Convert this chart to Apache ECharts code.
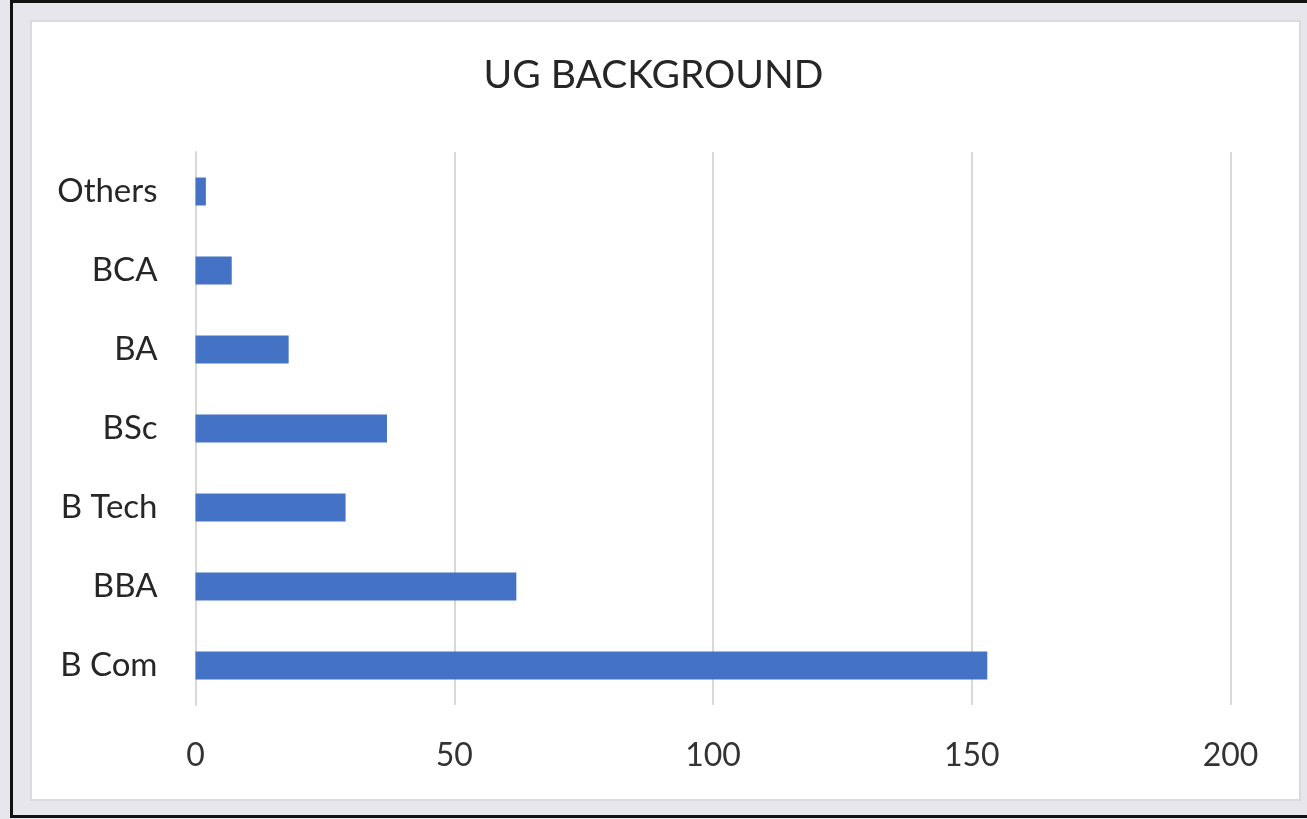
<!DOCTYPE html>
<html>
<head>
<meta charset="utf-8">
<script src="https://cdn.jsdelivr.net/npm/echarts@6/dist/echarts.min.js"></script>
<style>
  html, body { margin: 0; padding: 0; background: #e6e6ec; overflow: hidden; }
  .wrap { position: relative; width: 1307px; height: 819px; }
  .frame {
    position: absolute; left: 10px; top: 0; width: 1320px; height: 812px;
    border: 3px solid #111; background: #e6e6ec;
  }
  .panel {
    position: absolute; left: 30px; top: 20px; width: 1267px; height: 777px;
    border: 2px solid #d9d9de; background: #fff;
  }
  #chart { position: absolute; left: 0; top: 0; width: 1307px; height: 819px; }
</style>
</head>
<body>
<div class="wrap">
  <div class="frame"></div>
  <div class="panel"></div>
  <div id="chart"></div>
</div>
<script>
// Undergraduate degree background counts
const titleText = 'UG BACKGROUND';
const categories = ['B Com', 'BBA', 'B Tech', 'BSc', 'BA', 'BCA', 'Others'];
const counts = [153, 62, 29, 37, 18, 7, 2];
const axisMin = 0;
const axisMax = 200;
const axisStep = 50;

const FONT = 'Lato, "Open Sans", sans-serif';
const chart = echarts.init(document.getElementById('chart'), null, { renderer: 'canvas' });

chart.setOption({
  backgroundColor: 'transparent',
  animation: false,
  title: {
    text: titleText,
    left: 'center',
    top: 51,
    textStyle: { fontFamily: FONT, fontSize: 39, fontWeight: 'normal', color: '#262626' }
  },
  grid: { left: 195.5, right: 76.5, top: 152, bottom: 114, containLabel: false },
  xAxis: {
    type: 'value',
    min: axisMin,
    max: axisMax,
    interval: axisStep,
    axisLine: { show: false },
    axisTick: { show: false },
    splitLine: { show: true, lineStyle: { color: '#d9d9d9', width: 2 } },
    axisLabel: { fontFamily: FONT, fontSize: 32, color: '#333', margin: 35 }
  },
  yAxis: {
    type: 'category',
    data: categories,
    axisLine: { show: true, lineStyle: { color: '#d9d9d9', width: 2 } },
    axisTick: { show: false },
    axisLabel: { fontFamily: FONT, fontSize: 33, color: '#262626', margin: 38 }
  },
  series: [{
    type: 'bar',
    data: counts,
    barWidth: 28,
    itemStyle: { color: '#4472c4' },
    z: 3
  }]
});
</script>
</body>
</html>
